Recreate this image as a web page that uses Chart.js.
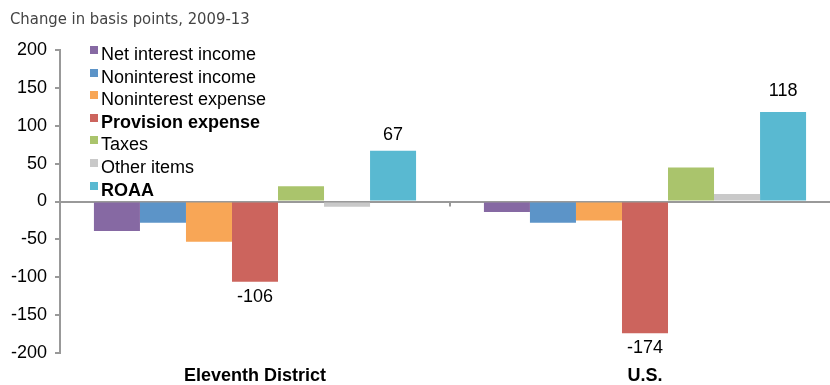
<!DOCTYPE html>
<html>
<head>
<meta charset="utf-8">
<script src="https://cdn.jsdelivr.net/npm/chart.js@4"></script>
<style>
  html, body { margin: 0; padding: 0; background: #fff; overflow: hidden; }
  #wrap { position: relative; width: 842px; height: 385px; }
  #title {
    position: absolute; left: 10px; top: 9px;
    font-family: 'Liberation Sans Narrow', 'DejaVu Sans Condensed', sans-serif;
    font-size: 16.5px; color: #444;
  }
  #legend {
    position: absolute; left: 90px; top: 43px;
    font-family: 'Liberation Sans', Arial, sans-serif; font-size: 18px; color: #000;
  }
  .item { height: 22.6px; line-height: 22.6px; white-space: nowrap; }
  .box { display: inline-block; width: 8px; height: 8px; margin-right: 3px; vertical-align: 6px; }
</style>
</head>
<body>
<div id="wrap">
  <canvas id="chart" width="842" height="385"></canvas>
  <div id="title">Change in basis points, 2009-13</div>
  <div id="legend"></div>
</div>
<script>
var categories = ['Eleventh District', 'U.S.'];
var seriesNames = ['Net interest income', 'Noninterest income', 'Noninterest expense',
  'Provision expense', 'Taxes', 'Other items', 'ROAA'];
var netInterest = [-39, -14];
var nonInterestIncome = [-28, -28];
var nonInterestExpense = [-53, -25];
var provision = [-106, -174];
var taxes = [20, 45];
var otherItems = [-7, 10];
var roaa = [67, 118];
var yTicks = [-200, -150, -100, -50, 0, 50, 100, 150, 200];

var seriesValues = [netInterest, nonInterestIncome, nonInterestExpense, provision, taxes, otherItems, roaa];
var colors = ['#8669a3', '#5c94c8', '#f8a656', '#cc645d', '#aac46c', '#c9c9c9', '#59b9d1'];
var boldSeries = [false, false, false, true, false, false, true];

var legendHtml = '';
seriesNames.forEach(function (name, i) {
  legendHtml += '<div class="item"><span class="box" style="background:' + colors[i] + '"></span>' +
    '<span style="font-weight:' + (boldSeries[i] ? 'bold' : 'normal') + '">' + name + '</span></div>';
});
document.getElementById('legend').innerHTML = legendHtml;

var datasets = seriesValues.map(function (vals, i) {
  return {
    label: seriesNames[i],
    data: vals,
    backgroundColor: colors[i],
    borderWidth: 0,
    showValues: boldSeries[i]
  };
});

// value labels on the highlighted series + small tick between groups
const extras = {
  id: 'extras',
  afterDatasetsDraw(chart) {
    const ctx = chart.ctx;
    const x = chart.scales.x, y = chart.scales.y;
    ctx.save();
    ctx.font = '18px "Liberation Sans", Arial, sans-serif';
    ctx.fillStyle = '#000';
    ctx.textAlign = 'center';
    chart.data.datasets.forEach(function (ds, di) {
      if (!ds.showValues) return;
      chart.getDatasetMeta(di).data.forEach(function (bar, j) {
        const v = ds.data[j];
        if (v >= 0) {
          ctx.textBaseline = 'bottom';
          ctx.fillText(v, bar.x, bar.y - (v > 100 ? 12 : 7));
        } else {
          ctx.textBaseline = 'top';
          ctx.fillText(v, bar.x, bar.y + 6);
        }
      });
    });
    const mid = (x.getPixelForValue(0) + x.getPixelForValue(1)) / 2;
    const y0 = y.getPixelForValue(0);
    ctx.strokeStyle = '#999';
    ctx.lineWidth = 2;
    ctx.beginPath();
    ctx.moveTo(mid, y0);
    ctx.lineTo(mid, y0 + 5);
    ctx.stroke();
    ctx.restore();
  }
};

new Chart('chart', {
  type: 'bar',
  data: { labels: categories, datasets: datasets },
  options: {
    responsive: false,
    animation: false,
    categoryPercentage: 0.826,
    barPercentage: 1,
    layout: { padding: { top: 50, right: 2, left: 0, bottom: 0 } },
    plugins: { legend: { display: false }, tooltip: { enabled: false } },
    scales: {
      x: {
        grid: { display: false, drawTicks: false },
        border: { display: false },
        ticks: {
          color: '#000', padding: 12,
          font: { family: '"Liberation Sans", Arial, sans-serif', size: 18, weight: 'bold' }
        },
        afterFit: function (s) { s.height = 32; }
      },
      y: {
        min: -200, max: 200,
        afterBuildTicks: function (s) { s.ticks = yTicks.map(function (v) { return { value: v }; }); },
        border: { display: true, color: '#999', width: 2 },
        grid: {
          color: function (c) { return c.tick && c.tick.value === 0 ? '#999' : 'rgba(0,0,0,0)'; },
          lineWidth: 2,
          tickColor: '#999',
          tickLength: 5
        },
        ticks: {
          color: '#000', padding: 8,
          font: { family: '"Liberation Sans", Arial, sans-serif', size: 18 }
        },
        afterFit: function (s) { s.width = 60; }
      }
    }
  },
  plugins: [extras]
});
</script>
</body>
</html>
